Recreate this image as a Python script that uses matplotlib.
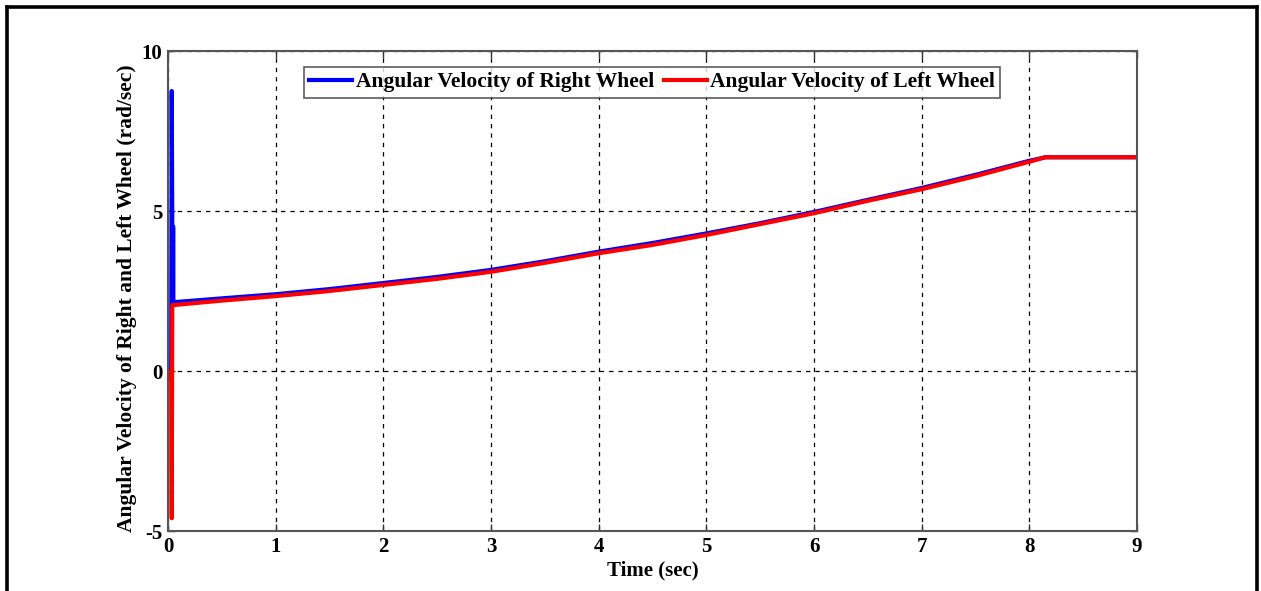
import numpy as np
import matplotlib.pyplot as plt
from matplotlib.lines import Line2D

# simulation output: wheel angular velocities (rad/sec) vs time (sec)
t_start_right = [0.0, 0.03, 0.035, 0.04, 0.05]
w_start_right = [0.0, 0.0, 8.75, 4.5, 4.5]
t_start_left = [0.0, 0.03, 0.035, 0.04]
w_start_left = [0.0, -0.3, -4.6, 2.06]

t_run = [0.05, 0.5, 1.0, 1.5, 2.0, 2.5, 3.0, 3.5, 4.0, 4.5, 5.0, 5.5,
         6.0, 6.5, 7.0, 7.5, 8.0, 8.15, 9.0]
w_run_right = [2.15, 2.27, 2.40, 2.56, 2.75, 2.94, 3.16, 3.43, 3.73, 4.00,
               4.30, 4.62, 4.97, 5.35, 5.72, 6.13, 6.57, 6.68, 6.68]
w_run_left = [2.06, 2.20, 2.34, 2.50, 2.69, 2.88, 3.10, 3.38, 3.68, 3.94,
              4.25, 4.59, 4.93, 5.32, 5.68, 6.09, 6.54, 6.68, 6.68]

x_ticks = [0, 1, 2, 3, 4, 5, 6, 7, 8, 9]
y_ticks = [-5, 0, 5, 10]

t_right = np.array(t_start_right + t_run)
w_right = np.array(w_start_right + w_run_right)
t_left = np.array(t_start_left + t_run)
w_left = np.array(w_start_left + w_run_left)

plt.rcParams['font.family'] = ['Liberation Serif', 'DejaVu Serif']
plt.rcParams['font.weight'] = 'bold'
plt.rcParams['axes.unicode_minus'] = False

fig = plt.figure(figsize=(12.61, 5.91), dpi=100)
ax = fig.add_axes([0.1332, 0.1015, 0.7685, 0.8122])

ax.plot(t_right, w_right, color='#0000ff', lw=3, label='Angular Velocity of Right Wheel')
ax.plot(t_left, w_left, color='#ff0000', lw=3, label='Angular Velocity of Left Wheel')

ax.set_xlim(0, 9)
ax.set_ylim(-5, 10)
ax.set_xticks(x_ticks)
ax.set_yticks(y_ticks)
ax.tick_params(direction='in', top=True, right=True, length=5, width=1,
               labelsize=15, pad=4, color='#333333')
for lbl in ax.get_xticklabels() + ax.get_yticklabels():
    lbl.set_fontweight('bold')
for sp in ax.spines.values():
    sp.set_color('#555555')
    sp.set_linewidth(1.5)

ax.grid(True, color='black', linestyle=(0, (3.5, 4)), linewidth=0.9)

ax.set_xlabel('Time (sec)', fontsize=15, fontweight='bold', labelpad=3)
ax.set_ylabel('Angular Velocity of Right and Left Wheel (rad/sec)', fontsize=15.5,
              fontweight='bold', labelpad=1)
ax.yaxis.set_label_coords(-0.032, 0.485)

leg = ax.legend(loc='upper center', ncol=2, bbox_to_anchor=(0.4995, 0.967),
                prop={'weight': 'bold', 'size': 15.5},
                frameon=True, fancybox=False, handlelength=2.0, handletextpad=0.15,
                columnspacing=0.45, borderpad=0.25, borderaxespad=0)
leg.get_frame().set_edgecolor('#333333')
leg.get_frame().set_linewidth(1.2)

# outer frame around the figure (open at the bottom)
frame_kw = dict(color='black', lw=2.6, transform=fig.transFigure)
fig.add_artist(Line2D([0.0052, 0.0052], [0, 0.988], **frame_kw))
fig.add_artist(Line2D([0.0052, 0.9968], [0.988, 0.988], **frame_kw))
fig.add_artist(Line2D([0.9968, 0.9968], [0, 0.988], **frame_kw))

fig.savefig('out.png', dpi=100)
